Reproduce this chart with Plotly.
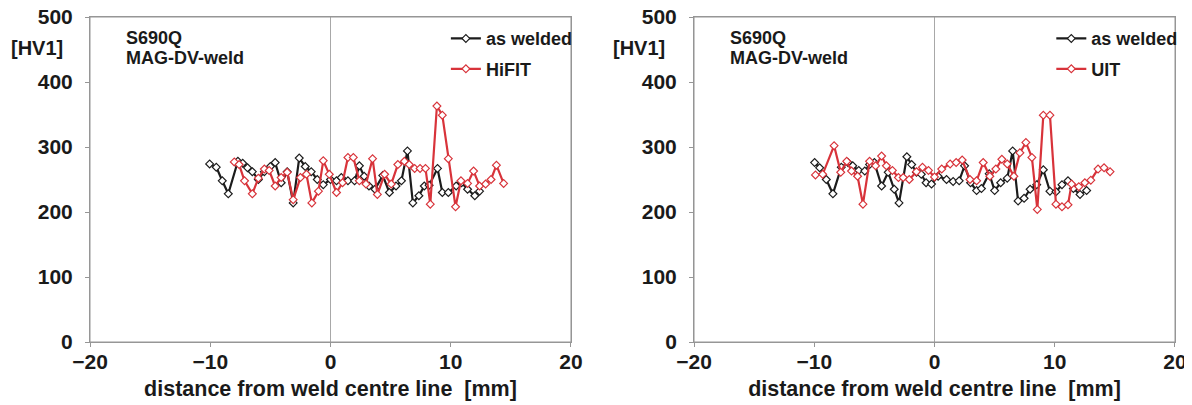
import plotly.graph_objects as go
from plotly.subplots import make_subplots

# ---- data: left panel (HiFIT) ----
aw1_x = [-10.05, -9.5, -9.0, -8.5, -7.7, -7.3, -6.9, -6.5, -6.0, -5.5, -5.0, -4.6, -4.1, -3.6, -3.1,
         -2.6, -2.1, -1.6, -1.1, -0.6, 0.0, 0.5, 0.9, 1.45, 2.0, 2.4, 2.8, 3.2, 3.7, 4.35, 4.9, 5.45,
         5.9, 6.4, 6.85, 7.35, 7.8, 8.2, 8.9, 9.3, 9.8, 10.45, 10.9, 11.4, 12.0, 12.4]
aw1_y = [274, 269, 248, 228, 278, 275, 268, 262, 250, 262, 270, 276, 245, 262, 214,
         283, 270, 262, 250, 242, 250, 248, 253, 248, 248, 271, 255, 240, 235, 256, 230, 240,
         248, 294, 214, 225, 240, 241, 267, 230, 230, 240, 245, 235, 225, 232]

hf_x = [-8.0, -7.6, -7.15, -6.5, -6.0, -5.5, -5.1, -4.6, -4.1, -3.6, -3.1, -2.5, -2.0, -1.55, -1.0,
        -0.6, -0.1, 0.5, 1.0, 1.45, 1.9, 2.4, 2.95, 3.5, 3.9, 4.5, 5.05, 5.6, 6.15, 6.55, 7.0,
        7.45, 7.9, 8.3, 8.85, 9.3, 9.8, 10.4, 10.85, 11.4, 11.9, 12.4, 12.9, 13.35, 13.8, 14.4]
hf_y = [277, 273, 248, 228, 252, 266, 264, 240, 253, 261, 219, 253, 258, 214, 232,
        279, 258, 230, 245, 284, 284, 248, 243, 282, 227, 258, 243, 273, 278, 273, 267,
        267, 267, 212, 363, 349, 282, 208, 248, 244, 263, 240, 243, 250, 272, 244]

# ---- data: right panel (UIT) ----
aw2_x = [-9.97, -9.55, -9.0, -8.45, -7.75, -7.2, -6.8, -6.3, -5.8, -5.4, -5.0, -4.4, -3.85, -3.35,
         -2.95, -2.3, -1.9, -1.5, -1.1, -0.7, -0.25, 0.3, 1.0, 1.55, 2.05, 2.5, 3.0, 3.5, 3.9, 4.55,
         5.0, 5.5, 6.05, 6.5, 6.95, 7.45, 7.95, 8.5, 9.05, 9.6, 10.1, 10.6, 11.1, 11.55, 12.1, 12.65]
aw2_y = [276, 268, 250, 228, 269, 276, 271, 264, 263, 273, 276, 240, 261, 235,
         214, 285, 273, 261, 258, 245, 243, 255, 250, 247, 248, 271, 245, 233, 236, 259,
         233, 245, 252, 294, 217, 221, 235, 242, 265, 232, 231, 242, 248, 236, 227, 233]

uit_x = [-9.9, -9.3, -8.35, -7.8, -7.3, -6.9, -6.4, -5.95, -5.4, -4.9, -4.4, -4.0, -3.5, -3.0, -2.6,
         -2.1, -1.5, -1.0, -0.5, 0.0, 0.6, 1.3, 1.8, 2.3, 2.95, 3.5, 4.05, 4.6, 5.1, 5.6, 6.05,
         6.6, 7.1, 7.6, 8.1, 8.55, 9.05, 9.6, 10.1, 10.6, 11.1, 11.4, 12.0, 12.5, 13.0, 13.6, 14.1, 14.6]
uit_y = [257, 258, 302, 261, 278, 263, 255, 212, 278, 271, 286, 271, 264, 253, 253,
         250, 262, 269, 264, 254, 266, 274, 276, 280, 250, 248, 276, 255, 266, 281, 274,
         255, 291, 307, 284, 204, 349, 349, 212, 208, 211, 243, 239, 245, 249, 266, 268, 262]

x_ticks = [-20, -10, 0, 10, 20]
y_ticks = [0, 100, 200, 300, 400, 500]

BLACK = "#1c1c1c"
RED = "#d8333a"
TXT = "#1a1a1a"
FRAME = "#969696"
FONT = "Liberation Sans"

fig = make_subplots(rows=1, cols=2, horizontal_spacing=0.1134)


def add(x, y, name, color, col, legend):
    fig.add_trace(go.Scatter(
        x=x, y=y, mode="lines+markers", name=name, legend=legend,
        line=dict(color=color, width=2.2),
        marker=dict(symbol="diamond", size=6, color="white",
                    line=dict(color=color, width=1.2)),
        legendgroup=name + legend, cliponaxis=False,
    ), row=1, col=col)


add(aw1_x, aw1_y, "as welded", BLACK, 1, "legend")
add(hf_x, hf_y, "HiFIT", RED, 1, "legend")
add(aw2_x, aw2_y, "as welded", BLACK, 2, "legend2")
add(uit_x, uit_y, "UIT", RED, 2, "legend2")

axis_common = dict(showline=True, linecolor=FRAME, linewidth=1, mirror=True,
                   showgrid=False, ticks="outside", ticklen=4, tickcolor=FRAME,
                   automargin=False, ticklabeloverflow="allow",
                   tickfont=dict(family=FONT, size=21, color=TXT, weight="bold"))

for c in (1, 2):
    fig.update_xaxes(range=[-20, 20], tickvals=x_ticks, zeroline=True,
                     zerolinecolor="#a8a8a8", zerolinewidth=1,
                     ticklabelstandoff=-3,
                     title=dict(text="distance from weld centre line  [mm]",
                                font=dict(family=FONT, size=21.5, color=TXT, weight="bold"),
                                standoff=8),
                     row=1, col=c, **axis_common)
    fig.update_yaxes(range=[0, 500], tickvals=y_ticks, zeroline=False,
                     ticklabelstandoff=8,
                     row=1, col=c, **axis_common)

# plot-area frame (box around each panel)
for xr, yr in (("x domain", "y domain"), ("x2 domain", "y2 domain")):
    fig.add_shape(type="rect", xref=xr, yref=yr, x0=0, x1=1, y0=0, y1=1,
                  line=dict(color=FRAME, width=1), fillcolor="rgba(0,0,0,0)", layer="above")

ann_font = dict(family=FONT, size=18, color=TXT, weight="bold")
for xp in (0.031, 0.588):
    fig.add_annotation(xref="paper", yref="paper", x=xp, y=0.935, xanchor="left", yanchor="middle",
                       text="S690Q", showarrow=False, font=ann_font)
    fig.add_annotation(xref="paper", yref="paper", x=xp, y=0.875, xanchor="left", yanchor="middle",
                       text="MAG-DV-weld", showarrow=False, font=ann_font)
for xp in (-0.049, 0.506):
    fig.add_annotation(xref="paper", yref="paper", x=xp, y=0.905, xanchor="center", yanchor="middle",
                       text="[HV1]", showarrow=False,
                       font=dict(family=FONT, size=20, color=TXT, weight="bold"))

leg_common = dict(bgcolor="rgba(0,0,0,0)", borderwidth=0, tracegroupgap=4,
                  font=dict(family=FONT, size=18, color=TXT, weight="bold"),
                  xanchor="left", yanchor="top", itemwidth=30)
fig.update_layout(
    legend=dict(x=0.328, y=0.990, **leg_common),
    legend2=dict(x=0.886, y=0.990, **leg_common),
)

# the page body has an 8px margin; offset the figure so the plot areas
# land where the reference has them inside the 1192x405 window
fig.update_layout(
    width=1192, height=405,
    margin=dict(l=82, r=25, t=9, b=71),
    paper_bgcolor="white", plot_bgcolor="white",
    showlegend=True,
)

fig.write_html("out.html")
